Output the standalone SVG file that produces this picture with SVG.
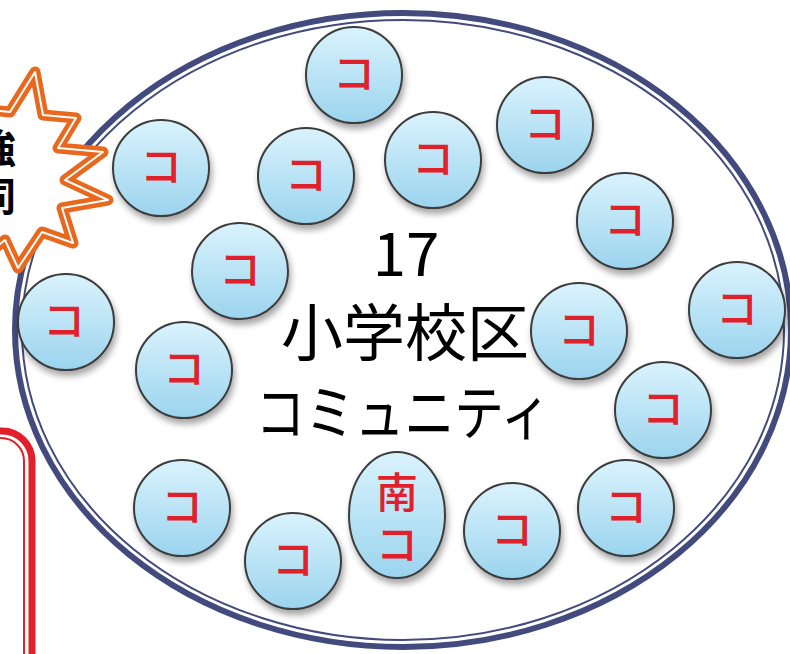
<svg xmlns="http://www.w3.org/2000/svg" width="790" height="654" viewBox="0 0 790 654">
<defs>
<linearGradient id="g" x1="0" y1="0" x2="0" y2="1">
<stop offset="0" stop-color="#daf3fd"/>
<stop offset="1" stop-color="#9bd4ee"/>
</linearGradient>
<filter id="sh" x="-20%" y="-20%" width="150%" height="150%">
<feDropShadow dx="2" dy="5" stdDeviation="3" flood-color="#000" flood-opacity="0.35"/>
</filter>
<style>
.c{fill:url(#g);stroke:#3c3c3c;stroke-width:2;filter:url(#sh)}
.k{font-family:"Noto Sans CJK JP","Noto Sans",sans-serif;fill:#e0202b;font-size:42px;font-weight:500;text-anchor:middle}
.m{font-family:"Noto Sans CJK JP","Noto Sans",sans-serif;fill:#000;text-anchor:middle}
.b{font-family:"Noto Sans CJK JP",sans-serif;font-weight:bold;fill:#000;font-size:40px}
</style>
</defs>
<rect width="790" height="654" fill="#fff"/>
<g id="community">
<ellipse cx="403" cy="330" rx="388" ry="317" fill="none" stroke="#434a7d" stroke-width="6"/>
<ellipse cx="403" cy="330" rx="381" ry="310" fill="none" stroke="#434a7d" stroke-width="2"/>
</g>
<g id="burst">
<polygon points="35,72 43,115 76,118 58,148 103,152 65,180 108,200 62,208 73,243 42,232 18,268 5,240 -20,260 -10,110 10,112" fill="#fff" stroke="#e8691e" stroke-width="11" stroke-linejoin="round"/>
<polygon points="35,72 43,115 76,118 58,148 103,152 65,180 108,200 62,208 73,243 42,232 18,268 5,240 -20,260 -10,110 10,112" fill="none" stroke="#fff" stroke-width="2" stroke-linejoin="round"/>
<text class="b" x="-24" y="163">強</text>
<text class="b" x="-24" y="211">同</text>
</g>
<g id="redbox">
<rect x="-60" y="431" width="92" height="320" rx="30" fill="none" stroke="#e0202b" stroke-width="7"/>
<rect x="-53" y="438" width="77" height="310" rx="23" fill="none" stroke="#e0202b" stroke-width="2"/>
</g>
<g id="title">
<text class="m" x="406" y="276" font-size="60">17</text>
<text class="m" x="405" y="356" font-size="62">小学校区</text>
<text class="m" x="403" y="435" font-size="60" textLength="295" lengthAdjust="spacingAndGlyphs">コミュニティ</text>
</g>
<g id="n1"><circle class="c" cx="354" cy="75" r="48"/><text class="k" x="354" y="89">コ</text></g>
<g id="n2"><circle class="c" cx="545" cy="125" r="48"/><text class="k" x="545" y="139">コ</text></g>
<g id="n3"><circle class="c" cx="161" cy="168" r="48"/><text class="k" x="161" y="182">コ</text></g>
<g id="n4"><circle class="c" cx="306" cy="176" r="48"/><text class="k" x="306" y="190">コ</text></g>
<g id="n5"><circle class="c" cx="433" cy="160" r="48"/><text class="k" x="433" y="174">コ</text></g>
<g id="n6"><circle class="c" cx="625" cy="221" r="48"/><text class="k" x="625" y="235">コ</text></g>
<g id="n7"><circle class="c" cx="240" cy="271" r="48"/><text class="k" x="240" y="285">コ</text></g>
<g id="n8"><circle class="c" cx="66" cy="322" r="48"/><text class="k" x="64" y="336">コ</text></g>
<g id="n9"><circle class="c" cx="737" cy="310" r="48"/><text class="k" x="737" y="324">コ</text></g>
<g id="n10"><circle class="c" cx="579" cy="331" r="48"/><text class="k" x="579" y="345">コ</text></g>
<g id="n11"><circle class="c" cx="184" cy="370" r="48"/><text class="k" x="184" y="384">コ</text></g>
<g id="n12"><circle class="c" cx="663" cy="410" r="48"/><text class="k" x="663" y="424">コ</text></g>
<g id="n13"><circle class="c" cx="182" cy="508" r="48"/><text class="k" x="182" y="522">コ</text></g>
<g id="n14"><circle class="c" cx="626" cy="508" r="48"/><text class="k" x="626" y="522">コ</text></g>
<g id="n15"><circle class="c" cx="293" cy="561" r="48"/><text class="k" x="293" y="575">コ</text></g>
<g id="n16"><circle class="c" cx="512" cy="531" r="48"/><text class="k" x="512" y="545">コ</text></g>
<g id="n17"><ellipse class="c" cx="397" cy="515" rx="48" ry="63"/><text class="k" x="397" y="508" font-size="44">南</text><text class="k" x="397" y="560" font-size="44">コ</text></g>
<g id="connectors"/>
</svg>
